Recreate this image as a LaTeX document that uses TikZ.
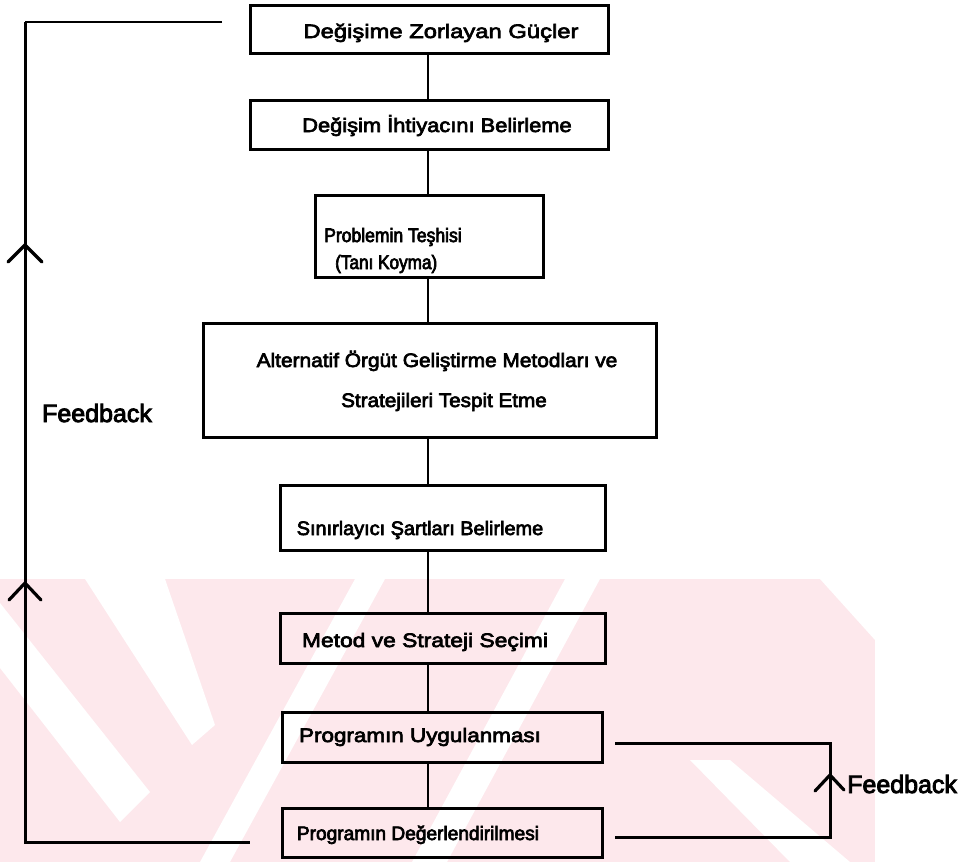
\documentclass[tikz,border=0pt]{standalone}
\usepackage{fontspec}
\setmainfont{Liberation Sans}
\newfontfamily\fbfont{Liberation Sans}[FakeBold=3.5]
% caption face: fixed size, horizontal stretch chosen per caption
\newcommand\capface[1]{\fontspec{Liberation Sans}[FakeStretch=#1, FakeBold=3.5]\fontsize{19.5}{24}\selectfont}
\usetikzlibrary{calc}

\definecolor{wmpink}{RGB}{253,232,236}

\begin{document}
\begin{tikzpicture}[x=1pt, y=-1pt,
  stage/.style={draw, line width=3pt, inner sep=0pt},
  lbl/.style={font=\capface{#1}, inner sep=0pt, anchor=base},
  lbl/.default=1.1,
  fb/.style={font=\fbfont\fontsize{25}{30}\selectfont, inner sep=0pt, anchor=base},
  link/.style={line width=2.6pt},
  loopline/.style={line width=3pt, line join=miter},
  thinline/.style={line width=1.4pt},
  head/.style={line width=3.2pt, line cap=round, line join=miter},
  wm/.style={fill=wmpink, draw=none},
  wmcut/.style={fill=white, draw=none}
]
\useasboundingbox (0,0) rectangle (968,862);

% background emblem
\fill[wm] (0,579) -- (875,579) -- (875,862) -- (0,862) -- cycle;
\fill[wmcut] (85,579) -- (165,579) -- (215,725) -- (192,745) -- cycle;
\fill[wmcut] (0,603) -- (150,792) -- (120,822) -- (0,668) -- cycle;
\fill[wmcut] (355,579) -- (385,579) -- (230,862) -- (200,862) -- cycle;
\fill[wmcut] (565,579) -- (600,579) -- (447,862) -- (412,862) -- cycle;
\fill[wmcut] (875,640) -- (875,579) -- (820,579) -- cycle;
\fill[wmcut] (690,760) -- (730,760) -- (850,862) -- (790,862) -- cycle;

% process stages
\node[stage, minimum width=358pt, minimum height=48pt]  (b1) at (429,29)    {};
\node[stage, minimum width=358pt, minimum height=49pt]  (b2) at (429,124.5) {};
\node[stage, minimum width=228pt, minimum height=82pt]  (b3) at (429,236)   {};
\node[stage, minimum width=453pt, minimum height=114pt] (b4) at (429.5,380) {};
\node[stage, minimum width=325pt, minimum height=65pt]  (b5) at (442.5,517.5) {};
\node[stage, minimum width=325pt, minimum height=50pt]  (b6) at (442.5,638) {};
\node[stage, minimum width=320pt, minimum height=50pt]  (b7) at (442,737)   {};
\node[stage, minimum width=320pt, minimum height=49pt]  (b8) at (442,832.5) {};

% stage captions
\node[lbl=1.22] (t1)  at (441,38)  {Değişime Zorlayan Güçler};
\node[lbl=1.12] (t2)  at (437,132) {Değişim İhtiyacını Belirleme};
\node[lbl=0.9, anchor=base west] (t3a) at (324,242) {Problemin Teşhisi};
\node[lbl=0.88, anchor=base west] (t3b) at (335,269) {(Tanı Koyma)};
\node[lbl=1.07] (t4a) at (437,367) {Alternatif Örgüt Geliştirme Metodları ve};
\node[lbl=1.06] (t4b) at (444,407) {Stratejileri Tespit Etme};
\node[lbl=1.02] (t5)  at (420,535) {Sınırlayıcı Şartları Belirleme};
\node[lbl=1.17] (t6)  at (425,647) {Metod ve Strateji Seçimi};
\node[lbl=1.15] (t7)  at (420,742) {Programın Uygulanması};
\node[lbl=0.98] (t8)  at (418,840) {Programın Değerlendirilmesi};

% main spine
\coordinate (spine) at (428,0);
\foreach \a/\b in {b1/b2, b2/b3, b3/b4, b4/b5, b5/b6, b6/b7, b7/b8}
  \draw[link] (\a.south -| spine) -- (\b.north -| spine);

% outer feedback loop
\coordinate (outerTop) at (222,22);
\coordinate (outerBot) at (250,842);
\coordinate (outerX) at (25,0);
\draw[thinline] (outerTop) -- (outerTop -| outerX);
\draw[loopline] (outerTop -| outerX) -- (outerBot -| outerX) -- (outerBot);
\coordinate (hA) at (25,245);
\coordinate (hB) at (25,583);
\draw[head] ($(hA)+(-17,17)$) -- (hA) -- ($(hA)+(17,17)$);
\draw[head] ($(hB)+(-16,17)$) -- (hB) -- ($(hB)+(16,17)$);
\node[fb] (fbL) at (97,422) {Feedback};

% inner feedback loop
\coordinate (innerTop) at (615,743);
\coordinate (innerBot) at (615,837);
\coordinate (innerX) at (830,0);
\draw[loopline] (innerTop) -- (innerTop -| innerX) -- (innerBot -| innerX) -- (innerBot);
\coordinate (hC) at (830,775);
\draw[head] ($(hC)+(-15,16)$) -- (hC) -- ($(hC)+(14,15)$);
\node[fb, anchor=base west] (fbR) at (847,793) {Feedback};
\end{tikzpicture}
\end{document}
